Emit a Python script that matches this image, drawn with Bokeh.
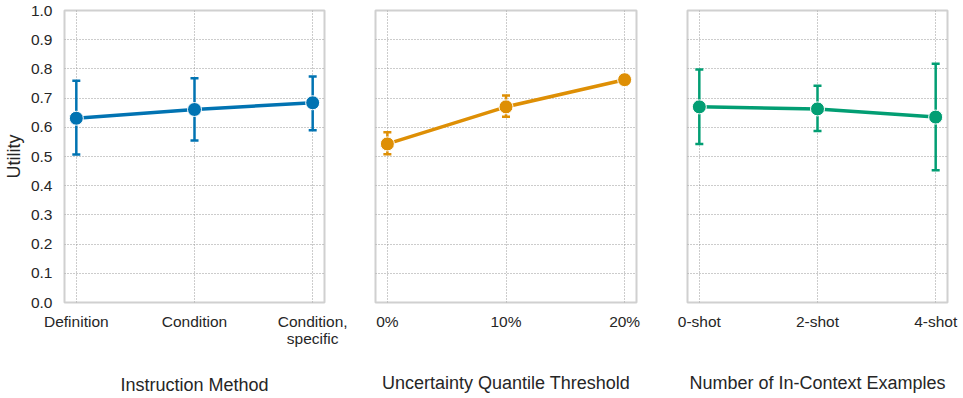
from bokeh.plotting import figure
from bokeh.layouts import row
from bokeh.models import FixedTicker, Whisker, TeeHead, ColumnDataSource, Range1d
from bokeh.embed import file_html
from bokeh.resources import INLINE

# ---- data ----
method_cats = ["Definition", "Condition", "Condition,\nspecific"]
method_mean = [0.631, 0.661, 0.684]
method_lo = [0.507, 0.555, 0.590]
method_hi = [0.759, 0.768, 0.774]

quant_cats = ["0%", "10%", "20%"]
quant_mean = [0.543, 0.670, 0.763]
quant_lo = [0.508, 0.636, 0.756]
quant_hi = [0.583, 0.709, 0.770]

shot_cats = ["0-shot", "2-shot", "4-shot"]
shot_mean = [0.670, 0.663, 0.635]
shot_lo = [0.543, 0.587, 0.453]
shot_hi = [0.798, 0.742, 0.818]

y_ticks = [0.0, 0.1, 0.2, 0.3, 0.4, 0.5, 0.6, 0.7, 0.8, 0.9, 1.0]

xlabels = ["Instruction Method", "Uncertainty Quantile Threshold", "Number of In-Context Examples"]
colors = ["#0173b2", "#de8f05", "#029e73"]

FONT = "Liberation Sans"
TXT = "#262626"


def panel(cats, mean, lo, hi, color, xlabel, width, bl, br, show_y, label_standoff, multiline=False):
    xs = list(range(len(cats)))
    src = ColumnDataSource(dict(x=xs, y=mean, lo=lo, hi=hi))
    p = figure(width=width, height=398, output_backend="svg", toolbar_location=None,
               x_range=Range1d(-0.1, len(cats) - 0.9), y_range=Range1d(0, 1),
               min_border_left=bl, min_border_right=br, min_border_top=10, min_border_bottom=96)
    p.background_fill_color = "white"
    p.border_fill_color = "white"
    p.outline_line_color = "#d0d0d0"
    p.outline_line_width = 2

    # grids
    for g in (p.xgrid, p.ygrid):
        g.grid_line_color = "#999999"
        g.grid_line_dash = "1 2"
        g.grid_line_width = 1.1
    p.ygrid.ticker = FixedTicker(ticks=y_ticks)
    p.xgrid.ticker = FixedTicker(ticks=xs)

    # x axis
    xa = p.xaxis[0]
    xa.ticker = FixedTicker(ticks=xs)
    xa.major_label_overrides = {i: c for i, c in enumerate(cats)}
    xa.axis_line_color = None
    xa.major_tick_line_color = None
    xa.minor_tick_line_color = None
    xa.major_tick_out = 0
    xa.major_label_standoff = 10
    xa.major_label_text_font = FONT
    xa.major_label_text_font_size = "15.5px"
    xa.major_label_text_color = TXT
    if multiline:
        xa.major_label_text_line_height = 1.0
    xa.axis_label = xlabel
    xa.axis_label_text_font = FONT
    xa.axis_label_text_font_size = "18px"
    xa.axis_label_text_font_style = "normal"
    xa.axis_label_text_color = TXT
    xa.axis_label_standoff = label_standoff

    ya = p.yaxis[0]
    ya.ticker = FixedTicker(ticks=y_ticks)
    if show_y:
        ya.axis_line_color = None
        ya.major_tick_line_color = None
        ya.minor_tick_line_color = None
        ya.major_tick_out = 0
        ya.major_label_standoff = 12
        ya.major_label_text_font = FONT
        ya.major_label_text_font_size = "15.5px"
        ya.major_label_text_color = TXT
        ya.axis_label = "Utility"
        ya.axis_label_text_font = FONT
        ya.axis_label_text_font_size = "18px"
        ya.axis_label_text_font_style = "normal"
        ya.axis_label_text_color = TXT
        ya.axis_label_standoff = 4
        ya.major_label_overrides = {t: f"{t:.1f}" for t in y_ticks}
    else:
        ya.visible = False

    w = Whisker(base="x", upper="hi", lower="lo", source=src, line_color=color, line_width=2.5,
                upper_head=TeeHead(size=8, line_color=color, line_width=2.5),
                lower_head=TeeHead(size=8, line_color=color, line_width=2.5))
    p.add_layout(w)
    p.line("x", "y", source=src, line_color=color, line_width=3.5)
    p.scatter("x", "y", source=src, size=14, fill_color=color, line_color="white", line_width=1)
    return p


f1 = panel(method_cats, method_mean, method_lo, method_hi, colors[0], xlabels[0], 349, 64, 25, True, 25, True)
f2 = panel(quant_cats, quant_mean, quant_lo, quant_hi, colors[1], xlabels[1], 312, 26, 25, False, 40)
f3 = panel(shot_cats, shot_mean, shot_lo, shot_hi, colors[2], xlabels[2], 302, 26, 16, False, 40)

layout = row(f1, f2, f3, spacing=0)
open("out.html", "w").write(file_html(layout, INLINE))
